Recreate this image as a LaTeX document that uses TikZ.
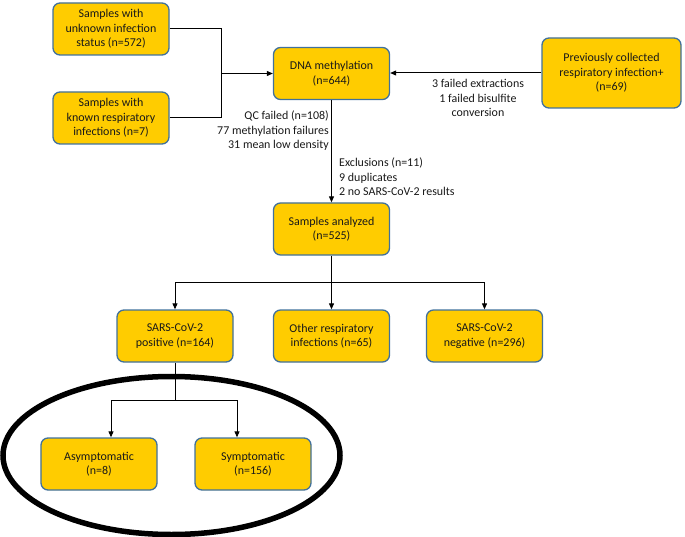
\documentclass[tikz,border=0pt]{standalone}
\usepackage{fontspec}
\setmainfont{Carlito}
\usetikzlibrary{arrows.meta}
\definecolor{boxfill}{HTML}{FFCC00}
\definecolor{boxline}{HTML}{41719C}
\begin{document}
\begin{tikzpicture}[x=1bp,y=-1bp,
  every node/.style={font=\fontsize{12}{14.5}\selectfont, inner sep=0pt},
  box/.style={draw=boxline, line width=1.3bp, fill=boxfill, rounded corners=7bp,
    minimum width=116bp, minimum height=52bp, align=center, text=black!90},
  conn/.style={draw=black, line width=1bp},
  arr/.style={conn, -{Triangle[length=6bp,width=5bp]}},
  lbl/.style={text=black!90}]
\useasboundingbox (0,0) rectangle (685,537);
\node[box] (unk) at (111,29) {Samples with\\unknown infection\\status (n=572)};
\node[box] (known) at (111,118) {Samples with\\known respiratory\\infections (n=7)};
\node[box] (dna) at (331.5,73.5) {DNA methylation\\(n=644)};
\node[box, minimum width=139bp, minimum height=70bp] (prev) at (611.5,73) {Previously collected\\respiratory infection+\\(n=69)};
\node[box] (ana) at (331.5,229) {Samples analyzed\\(n=525)};
\node[box] (pos) at (175,336) {SARS-CoV-2\\positive (n=164)};
\node[box] (oth) at (331.5,336) {Other respiratory\\infections (n=65)};
\node[box] (neg) at (484.5,336) {SARS-CoV-2\\negative (n=296)};
\node[box] (asy) at (99,464) {Asymptomatic\\(n=8)};
\node[box] (sym) at (253,464) {Symptomatic\\(n=156)};

\coordinate (j1) at (221,73.5);
\draw[conn] (unk.east) -| (j1);
\draw[conn] (known.east) -| (j1);
\draw[arr] (j1) -- (dna.west);
\draw[arr] (prev.west) -- (dna.east |- prev.west);
\node[lbl, align=center] (fail) at (478,98) {3 failed extractions\\1 failed bisulfite\\conversion};
\draw[arr] (dna.south) -- (ana.north);
\node[lbl, align=right, anchor=north east] (qc) at (329,111) {QC failed (n=108)\\77 methylation failures\\31 mean low density};
\node[lbl, align=left, anchor=north west] (exc) at (339,158) {Exclusions (n=11)\\9 duplicates\\2 no SARS-CoV-2 results};

\coordinate (j2) at (331.5,282);
\draw[conn] (ana.south) -- (j2);
\draw[arr] (j2) -| (pos.north);
\draw[arr] (j2) -- (oth.north);
\draw[arr] (j2) -| (neg.north);

\coordinate (j3) at (175,400);
\draw[conn] (pos.south) -- (j3);
\draw[arr] (j3) -| ([xshift=12bp]asy.north);
\draw[arr] (j3) -| ([xshift=-16bp]sym.north);

\draw[line width=5.5bp] (171.5,455.5) ellipse [x radius=168.5bp, y radius=79bp];
\end{tikzpicture}
\end{document}
